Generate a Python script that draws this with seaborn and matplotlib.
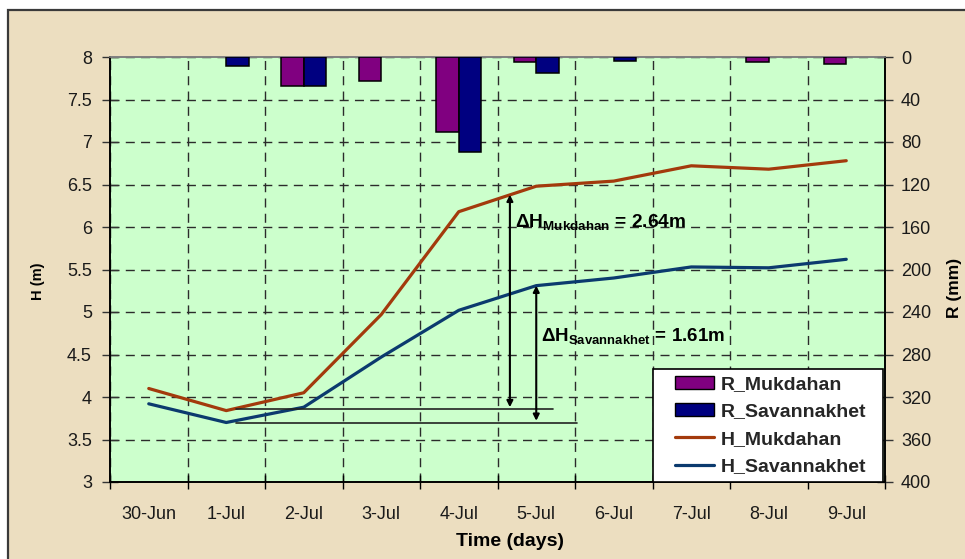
import numpy as np
import pandas as pd
import matplotlib
matplotlib.use("Agg")
import matplotlib.pyplot as plt
from matplotlib.patches import Patch, Rectangle
from matplotlib.lines import Line2D
import seaborn as sns

# ---- data -------------------------------------------------------------
dates = ["30-Jun", "1-Jul", "2-Jul", "3-Jul", "4-Jul",
         "5-Jul", "6-Jul", "7-Jul", "8-Jul", "9-Jul"]

# daily rainfall (mm)
r_mukdahan = [0, 0, 27, 23, 71, 5, 0, 0, 5, 6.5]
r_savannakhet = [0, 8.5, 27, 0, 89, 15.5, 4, 0, 0, 0]

# water level (m)
h_mukdahan = [4.10, 3.84, 4.05, 4.97, 6.18, 6.48, 6.54, 6.72, 6.68, 6.78]
h_savannakhet = [3.92, 3.70, 3.88, 4.47, 5.02, 5.31, 5.40, 5.53, 5.52, 5.62]

y_ticks = [3, 3.5, 4, 4.5, 5, 5.5, 6, 6.5, 7, 7.5, 8]
r_ticks = [0, 40, 80, 120, 160, 200, 240, 280, 320, 360, 400]

# ---- style ------------------------------------------------------------
sns.set_style("ticks")
plt.rcParams["font.family"] = ["Liberation Sans", "DejaVu Sans"]
plt.rcParams["mathtext.fontset"] = "custom"
plt.rcParams["mathtext.rm"] = "Liberation Sans"
plt.rcParams["mathtext.bf"] = "Liberation Sans:bold"

C_MUK_BAR = "#800080"
C_SAV_BAR = "#000080"
C_MUK_LINE = "#A33A0C"
C_SAV_LINE = "#0B3A6E"
PLOT_BG = "#CCFFCC"
PAPER = "#ECDEC0"
TXT = "#1a1a1a"

W, H = 965, 559
fig = plt.figure(figsize=(W / 100, H / 100), dpi=100, facecolor="white")

# parchment panel with a dark frame
fig.add_artist(Rectangle((8 / W, -0.1), 1.2, 1.1 - 10 / H,
                         transform=fig.transFigure, facecolor=PAPER,
                         edgecolor="#3a3a3a", lw=1.6, zorder=-10))

ax1 = fig.add_axes([110 / W, 1 - 482 / H, 775 / W, 425 / H])
ax1.set_facecolor(PLOT_BG)
ax2 = ax1.twinx()

# ---- rainfall bars (right axis, hanging from the top) -----------------
rain = pd.DataFrame({
    "date": dates * 2,
    "R": r_mukdahan + r_savannakhet,
    "station": ["R_Mukdahan"] * len(dates) + ["R_Savannakhet"] * len(dates),
})
sns.barplot(data=rain, x="date", y="R", hue="station", order=dates,
            palette=[C_MUK_BAR, C_SAV_BAR], width=0.58, edgecolor="black",
            linewidth=1.1, saturation=1, legend=False, ax=ax2, zorder=3)
for p in ax2.patches:
    if p.get_height() == 0:
        p.set_visible(False)
ax2.set_ylim(400, 0)
ax2.set_yticks(r_ticks)
ax2.set_ylabel("")
ax2.set_xlabel("")

# ---- water level lines (left axis) ------------------------------------
idx = np.arange(len(dates))
sns.lineplot(x=idx, y=h_mukdahan, ax=ax1, color=C_MUK_LINE, lw=2.3,
             legend=False, zorder=4)
sns.lineplot(x=idx, y=h_savannakhet, ax=ax1, color=C_SAV_LINE, lw=2.3,
             legend=False, zorder=4)

ax1.set_ylim(3, 8)
ax1.set_xlim(-0.5, len(dates) - 0.5)
ax1.set_yticks(y_ticks)
ax1.set_yticklabels([f"{v:g}" for v in y_ticks])

# category boundaries carry the ticks/grid, centres carry the labels
ax1.set_xticks(np.arange(-0.5, len(dates), 1.0))
ax1.set_xticklabels([])
ax1.set_xticks(idx, minor=True)
ax1.set_xticklabels(dates, minor=True)
ax1.tick_params(axis="x", which="minor", length=0, pad=17,
                labelsize=13, labelcolor=TXT)
ax1.tick_params(axis="x", which="major", direction="inout", length=10,
                width=1, color="black")
ax1.tick_params(axis="y", direction="inout", length=11, width=1,
                pad=7.5, labelsize=13, labelcolor=TXT, color="#333333")
ax2.tick_params(axis="y", direction="inout", length=11, width=1,
                pad=6, labelsize=13, labelcolor=TXT, color="#333333")

ax1.grid(True, which="major", axis="both", color="#2b2b2b", lw=1.0,
         linestyle=(0, (6.5, 4.5)))
ax1.set_axisbelow(True)
ax1.set_xlabel("")
ax1.set_ylabel("")

for a in (ax1, ax2):
    for side in ("left", "right", "bottom"):
        a.spines[side].set_color("black")
        a.spines[side].set_linewidth(1.2)
    a.spines["top"].set_color("#808080")
    a.spines["top"].set_linewidth(1.2)

# ---- rise annotations -------------------------------------------------
ax1.plot([1.13, 5.21], [h_mukdahan[1] + 0.015] * 2, color="#222222",
         lw=1.2, zorder=5)
ax1.plot([1.13, 5.53], [h_savannakhet[1]] * 2, color="#222222",
         lw=1.2, zorder=5)

arrow = dict(arrowstyle="<|-|>", color="black", lw=1.5,
             mutation_scale=9, shrinkA=0, shrinkB=0)
ax1.annotate("", xy=(4.66, 6.38), xytext=(4.66, 3.88),
             arrowprops=arrow, zorder=6)
ax1.annotate("", xy=(5.0, h_savannakhet[5]), xytext=(5.0, 3.72),
             arrowprops=arrow, zorder=6)

d_muk = h_mukdahan[5] - h_mukdahan[1]
d_sav = h_savannakhet[5] - h_savannakhet[1]
ax1.text(4.73, 6.0, r"$\mathbf{\Delta H_{Mukdahan}}$" + f" = {d_muk:.2f}m",
         fontsize=13.8, fontweight="bold", color="black", zorder=6)
ax1.text(5.06, 4.66, r"$\mathbf{\Delta H_{Savannakhet}}$" + f" = {d_sav:.2f}m",
         fontsize=13.5, fontweight="bold", color="black", zorder=6)

# ---- legend -----------------------------------------------------------
x0, y0, x1, y1 = 653, 369, 883, 482
fig.add_artist(Rectangle((x0 / W, 1 - y1 / H), (x1 - x0) / W, (y1 - y0) / H,
                         transform=fig.transFigure, facecolor="white",
                         edgecolor="black", lw=1.2, zorder=4))
handles = [
    Patch(facecolor=C_MUK_BAR, edgecolor="black", lw=1.0),
    Patch(facecolor=C_SAV_BAR, edgecolor="black", lw=1.0),
    Line2D([], [], color=C_MUK_LINE, lw=2.3),
    Line2D([], [], color=C_SAV_LINE, lw=2.3),
]
labels = ["R_Mukdahan", "R_Savannakhet", "H_Mukdahan", "H_Savannakhet"]
leg = fig.legend(handles, labels, loc="center",
                 bbox_to_anchor=((x0 + x1) / 2 / W + 3 / W,
                                 1 - (y0 + y1) / 2 / H),
                 bbox_transform=fig.transFigure, borderaxespad=0,
                 prop={"weight": "bold", "size": 14},
                 frameon=False,
                 handlelength=2.0, handleheight=0.65, handletextpad=0.35,
                 labelspacing=0.52, borderpad=0.2)
leg.set_zorder(5)

# ---- axis titles ------------------------------------------------------
fig.text(38 / W, 1 - 281 / H, "H (m)", rotation=90, ha="center",
         va="center", fontsize=10.5, fontweight="bold", color="black")
fig.text(955 / W, 1 - 288 / H, "R (mm)", rotation=90, ha="center",
         va="center", fontsize=12.5, fontweight="bold", color="black")
fig.text(510 / W, 1 - 542 / H, "Time (days)", ha="center", va="center",
         fontsize=14, fontweight="bold", color="black")

fig.savefig("out.png", dpi=100, facecolor=fig.get_facecolor())
